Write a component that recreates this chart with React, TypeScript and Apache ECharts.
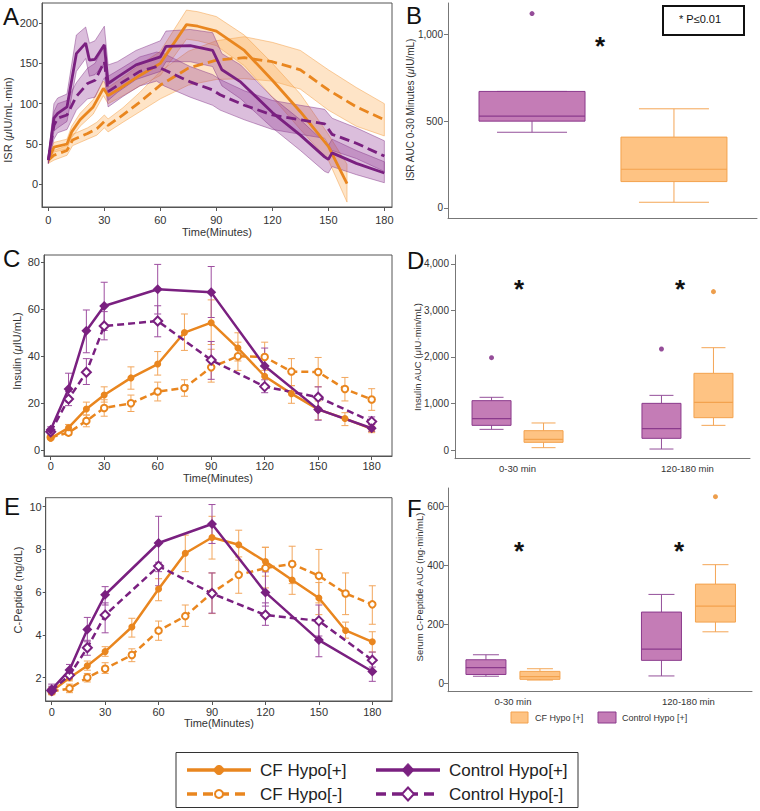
import React, { useEffect, useRef } from 'react';
import * as echarts from 'echarts';

const FONT = "'Liberation Sans', Arial, Helvetica, sans-serif";
const ORANGE = '#E9861F';
const PURPLE = '#7A2080';
const ORANGE_ERR = '#F2A65C';
const PURPLE_ERR = '#9E4FA0';
const ORANGE_BAND = 'rgba(251,176,92,0.34)';
const ORANGE_BAND_EDGE = 'rgba(244,160,72,0.5)';
const PURPLE_BAND = 'rgba(146,58,150,0.33)';
const PURPLE_BAND_EDGE = 'rgba(128,48,134,0.45)';
const BOX_P_FILL = '#C47CB6';
const BOX_P_EDGE = '#8B3A8C';
const BOX_P_WHISK = '#94509A';
const BOX_O_FILL = '#FEC383';
const BOX_O_EDGE = '#F3A24E';
const BOX_O_WHISK = '#F4A656';

// ---------- tick labels ----------
const TIME_TICKS = [0, 30, 60, 90, 120, 150, 180];
const ISR_TICKS = [0, 50, 100, 150, 200];
const INS_TICKS = [0, 20, 40, 60, 80];
const CP_TICKS = [2, 4, 6, 8, 10];
const ISR_AUC_TICKS = [0, 500, 1000];
const INS_AUC_TICKS = [0, 1000, 2000, 3000, 4000];
const CP_AUC_TICKS = [0, 200, 400, 600];
const AUC_CATEGORIES = ['0-30 min', '120-180 min'];

// ---------- Panel A: ISR (mean with band) ----------
const isrCtrlPosT = [0, 3, 5, 10, 15, 20, 22, 25, 30, 32, 37, 47, 60, 63, 76, 88, 93, 103, 120, 135, 148, 150, 152, 165, 180];
const isrCtrlPos = [30, 82, 88, 96, 162, 175, 154, 155, 173, 125, 133, 148, 158, 171, 172, 166, 142, 127, 89, 61, 34, 31, 39, 26, 14];
const isrCtrlPosHi = [34, 100, 107, 112, 185, 195, 175, 178, 196, 148, 152, 166, 178, 190, 192, 188, 162, 148, 108, 80, 52, 48, 56, 42, 28];
const isrCtrlPosLo = [26, 66, 70, 78, 140, 156, 134, 136, 150, 104, 114, 130, 140, 152, 152, 146, 122, 106, 70, 42, 16, 14, 22, 12, 2];

const isrCtrlNegT = [0, 3, 5, 10, 15, 21, 25, 30, 32, 40, 49, 58, 62, 76, 88, 92, 105, 120, 135, 148, 152, 165, 180];
const isrCtrlNeg = [30, 73, 82, 86, 109, 125, 129, 152, 115, 127, 140, 146, 142, 127, 117, 111, 98, 86, 80, 75, 62, 51, 35];
const isrCtrlNegHi = [34, 90, 100, 104, 126, 144, 150, 172, 134, 145, 158, 164, 162, 146, 136, 130, 116, 104, 98, 93, 82, 70, 54];
const isrCtrlNegLo = [26, 56, 64, 68, 92, 106, 108, 132, 96, 109, 122, 128, 122, 108, 98, 92, 80, 68, 62, 57, 42, 32, 16];

const isrCfPosT = [0, 3, 10, 12.5, 17, 24, 29.5, 32, 37, 49, 60, 74, 80, 90, 105, 120, 135, 150, 160];
const isrCfPos = [30, 46, 50, 65, 80, 96, 119, 110, 117, 135, 150, 198, 196, 190, 166, 129, 90, 47, 1];
const isrCfPosHi = [34, 52, 56, 72, 88, 105, 128, 120, 128, 148, 165, 216, 214, 208, 185, 150, 112, 62, 25];
const isrCfPosLo = [26, 40, 44, 58, 72, 87, 110, 100, 106, 122, 135, 180, 178, 172, 147, 108, 68, 30, -22];

const isrCfNegT = [0, 3, 10, 13, 21, 26, 30, 32, 40, 49, 60, 75, 90, 105, 120, 135, 150, 165, 180];
const isrCfNeg = [30, 36, 42, 55, 63, 69, 78, 73, 86, 102, 123, 144, 154, 157, 152, 142, 117, 96, 80];
const isrCfNegHi = [34, 42, 48, 62, 70, 77, 86, 81, 95, 114, 140, 165, 178, 183, 176, 166, 142, 120, 100];
const isrCfNegLo = [26, 30, 36, 48, 56, 61, 70, 65, 77, 90, 106, 123, 130, 131, 128, 118, 92, 72, 60];

// ---------- sampling times ----------
const ctrlTimes = [0, 10, 20, 30, 60, 90, 120, 150, 180];
const cfTimes = [0, 10, 20, 30, 45, 60, 75, 90, 105, 120, 135, 150, 165, 180];

// ---------- Panel C: Insulin ----------
const insCtrlPos = [8.7, 26.1, 50.9, 61.4, 68.5, 67.2, 35.9, 17.4, 9.4];
const insCtrlPosLo = [7.5, 21, 41.5, 51, 58, 56.5, 28, 12.8, 8];
const insCtrlPosHi = [10, 32.8, 59.7, 71.5, 79.1, 78.2, 43.5, 22, 11];
const insCtrlNeg = [7.9, 21.8, 33.2, 52.9, 55, 38.4, 27.1, 22.6, 12.2];
const insCtrlNegLo = [7, 19, 28, 47, 48.3, 30.2, 24.5, 18, 10];
const insCtrlNegHi = [9, 25, 39, 59, 61.5, 46.3, 30, 27, 14.2];
const insCfPos = [5.1, 9.6, 17.6, 23.5, 30.8, 36.7, 50.1, 54.3, 43.5, 31.5, 24.1, 17.4, 13.5, 9.1];
const insCfPosLo = [4.5, 8, 15, 20.5, 26, 32, 42.5, 45, 38, 27, 20, 13, 10.5, 7.5];
const insCfPosHi = [5.8, 11, 20.5, 27, 35.5, 42, 58, 64, 50, 36, 27.5, 21, 16, 10.8];
const insCfNeg = [5.5, 7.5, 12.5, 18, 20, 25, 26.5, 35.3, 40, 39.7, 33.5, 33.3, 26.1, 21.6];
const insCfNegLo = [4.8, 6.5, 10, 14.5, 16.5, 21, 23, 29, 34, 34, 27.5, 27, 21, 17];
const insCfNegHi = [6.2, 8.5, 15, 21.5, 23.5, 29, 30, 43, 46, 46, 39, 39.5, 31, 26.2];

// ---------- Panel E: C-Peptide ----------
const cpCtrlPos = [1.45, 2.36, 4.26, 5.88, 8.3, 9.19, 5.99, 3.76, 2.29];
const cpCtrlPosLo = [1.25, 2.1, 3.68, 5.4, 6.96, 8.28, 5.35, 2.98, 1.83];
const cpCtrlPosHi = [1.7, 2.62, 4.82, 6.26, 9.55, 10.1, 6.95, 4.55, 2.75];
const cpCtrlNeg = [1.4, 2.12, 3.4, 4.93, 7.22, 5.94, 4.93, 4.66, 2.82];
const cpCtrlNegLo = [1.25, 1.95, 3.05, 4.1, 6.3, 5.02, 4.45, 3.95, 2.5];
const cpCtrlNegHi = [1.6, 2.3, 3.75, 5.5, 7.4, 6.9, 5.5, 5.4, 3.2];
const cpCfPos = [1.37, 2.0, 2.56, 3.22, 4.37, 6.15, 7.82, 8.56, 8.22, 7.43, 6.57, 5.73, 4.21, 3.68];
const cpCfPosLo = [1.2, 1.85, 2.35, 3.0, 3.9, 5.6, 6.96, 7.55, 7.5, 6.75, 5.9, 4.95, 3.85, 3.2];
const cpCfPosHi = [1.55, 2.15, 2.78, 3.45, 4.78, 6.63, 8.67, 9.55, 8.9, 8.1, 7.25, 6.45, 4.6, 4.15];
const cpCfNeg = [1.35, 1.5, 2.01, 2.42, 3.06, 4.2, 4.88, 5.97, 6.81, 7.13, 7.32, 6.77, 5.94, 5.43];
const cpCfNegLo = [1.25, 1.3, 1.8, 2.2, 2.75, 3.75, 4.4, 5.0, 5.95, 6.2, 6.4, 5.5, 4.95, 4.5];
const cpCfNegHi = [1.5, 1.7, 2.2, 2.7, 3.35, 4.65, 5.4, 6.9, 7.65, 8.1, 8.15, 8.0, 6.9, 6.3];

// ---------- Box plots: [min, Q1, median, Q3, max] ----------
const isrAucCtrl = [[436, 500, 529, 671, 671]];
const isrAucCtrlOut = [[1119]];
const isrAucCf = [[33, 152, 223, 408, 571]];

const insAucCtrl = [[444, 530, 674, 1061, 1133], [21, 251, 459, 1003, 1175]];
const insAucCtrlOut = [[1985], [2172]];
const insAucCf = [[50, 165, 229, 416, 581], [530, 695, 1025, 1649, 2200]];
const insAucCfOut = [[], [3405]];

const cpAucCtrl = [[24, 30, 53, 80, 97], [25, 78, 116, 242, 302]];
const cpAucCf = [[11, 13.5, 22.5, 40.5, 49.5], [175, 208, 262, 337, 403]];
const cpAucCfOut = [[], [634]];

const zip = (t: number[], v: number[]) => t.map((x, i) => [x, v[i]]);
const fmtThousands = (v: number) => Number(v).toLocaleString('en-US');

function bandSeries(g: number, t: number[], lo: number[], hi: number[], fill: string, stroke: string) {
  return {
    type: 'custom', xAxisIndex: g, yAxisIndex: g, silent: true, clip: true, z: 1,
    data: [[t[0], lo[0]]],
    renderItem: (_p: any, api: any) => {
      const pts: number[][] = [];
      for (let i = 0; i < t.length; i++) pts.push(api.coord([t[i], hi[i]]));
      for (let i = t.length - 1; i >= 0; i--) pts.push(api.coord([t[i], lo[i]]));
      return { type: 'polygon', shape: { points: pts }, style: { fill, stroke, lineWidth: 1 } };
    },
  };
}

function errSeries(g: number, t: number[], lo: number[], hi: number[], color: string) {
  return {
    type: 'custom', xAxisIndex: g, yAxisIndex: g, silent: true, z: 2,
    encode: { x: 0, y: [1, 2] },
    data: t.map((x, i) => [x, lo[i], hi[i]]),
    renderItem: (_p: any, api: any) => {
      const x = api.value(0);
      const a = api.coord([x, api.value(1)]);
      const b = api.coord([x, api.value(2)]);
      const st = { stroke: color, lineWidth: 1 };
      return {
        type: 'group', children: [
          { type: 'line', shape: { x1: a[0], y1: a[1], x2: b[0], y2: b[1] }, style: st },
          { type: 'line', shape: { x1: a[0] - 3.5, y1: a[1], x2: a[0] + 3.5, y2: a[1] }, style: st },
          { type: 'line', shape: { x1: b[0] - 3.5, y1: b[1], x2: b[0] + 3.5, y2: b[1] }, style: st },
        ],
      };
    },
  };
}

function lineSeries(g: number, name: string, t: number[], v: number[], color: string, dash: number[] | null, symbol: string, size: number, width: number) {
  return {
    type: 'line', name, xAxisIndex: g, yAxisIndex: g, z: 3,
    data: zip(t, v),
    symbol, symbolSize: size, showSymbol: symbol !== 'none',
    lineStyle: { color, width, type: dash ? dash : 'solid' },
    itemStyle: { color, borderColor: color, borderWidth: symbol.startsWith('empty') ? 1.5 : 0 },
    emphasis: { disabled: true },
  };
}

function boxSeries(g: number, name: string, stats: number[][], firstCat: number, offset: number, halfW: number, capHalf: number, fill: string, edge: string, whisk: string) {
  return {
    type: 'custom', name, xAxisIndex: g, yAxisIndex: g, z: 2,
    encode: { x: 0, y: [1, 2, 3, 4, 5] },
    data: stats.map((s, i) => [firstCat + i, ...s]),
    renderItem: (_p: any, api: any) => {
      const c = api.value(0);
      const cx = api.coord([c, 0])[0] + offset;
      const y = (k: number) => api.coord([c, api.value(k)])[1];
      const yMin = y(1), yQ1 = y(2), yMed = y(3), yQ3 = y(4), yMax = y(5);
      const ws = { stroke: whisk, lineWidth: 1 };
      return {
        type: 'group', children: [
          { type: 'line', shape: { x1: cx, y1: yMin, x2: cx, y2: yQ1 }, style: ws },
          { type: 'line', shape: { x1: cx, y1: yQ3, x2: cx, y2: yMax }, style: ws },
          { type: 'line', shape: { x1: cx - capHalf, y1: yMin, x2: cx + capHalf, y2: yMin }, style: ws },
          { type: 'line', shape: { x1: cx - capHalf, y1: yMax, x2: cx + capHalf, y2: yMax }, style: ws },
          { type: 'rect', shape: { x: cx - halfW, y: yQ3, width: halfW * 2, height: yQ1 - yQ3 }, style: { fill, stroke: edge, lineWidth: 1 } },
          { type: 'line', shape: { x1: cx - halfW, y1: yMed, x2: cx + halfW, y2: yMed }, style: { stroke: edge, lineWidth: 1.2 } },
        ],
      };
    },
  };
}

function outlierSeries(g: number, outs: number[][], firstCat: number, offset: number, color: string) {
  const data: number[][] = [];
  outs.forEach((arr, i) => arr.forEach((v) => data.push([firstCat + i, v])));
  return {
    type: 'scatter', xAxisIndex: g, yAxisIndex: g, z: 4, data,
    symbolSize: 5, symbolOffset: [offset, 0], itemStyle: { color }, silent: true,
  };
}

const labelStyle = { color: '#333', fontFamily: FONT };

function timeXAxis(g: number, min: number, max: number, margin: number, nameGap: number) {
  return {
    type: 'value', gridIndex: g, min, max,
    axisLine: { show: true, onZero: false, lineStyle: { color: '#555' } },
    axisTick: { show: true, length: 4, customValues: TIME_TICKS, lineStyle: { color: '#555' } },
    axisLabel: { ...labelStyle, fontSize: 11, margin, customValues: TIME_TICKS },
    splitLine: { show: false },
    name: 'Time(Minutes)', nameLocation: 'middle', nameGap,
    nameTextStyle: { ...labelStyle, fontSize: 11 },
  };
}

function leftYAxis(g: number, min: number, max: number, ticks: number[]) {
  return {
    type: 'value', gridIndex: g, min, max,
    axisLine: { show: true, onZero: false, lineStyle: { color: '#555' } },
    axisTick: { show: true, length: 3, customValues: ticks, lineStyle: { color: '#555' } },
    axisLabel: { ...labelStyle, fontSize: 11, margin: 4, customValues: ticks },
    splitLine: { show: false },
  };
}

function aucYAxis(g: number, min: number, max: number, ticks: number[], margin: number) {
  return {
    type: 'value', gridIndex: g, min, max,
    axisLine: { show: true, onZero: false, lineStyle: { color: '#777' } },
    axisTick: { show: true, length: 4, customValues: ticks, lineStyle: { color: '#777' } },
    axisLabel: { ...labelStyle, fontSize: 10, margin, customValues: ticks, formatter: (v: number) => fmtThousands(v) },
    splitLine: { show: false },
  };
}

function catXAxis(g: number, min: number, max: number, showLabels: boolean, margin: number) {
  return {
    type: 'value', gridIndex: g, min, max,
    axisLine: { show: true, onZero: false, lineStyle: { color: '#777' } },
    axisTick: { show: false },
    axisLabel: showLabels
      ? { ...labelStyle, fontSize: 9.5, margin, customValues: [0, 1], formatter: (v: number) => AUC_CATEGORIES[v] }
      : { show: false },
    splitLine: { show: false },
  };
}

function yTitle(x: number, y: number, text: string, size: number) {
  return {
    type: 'text', x, y, rotation: Math.PI / 2, silent: true,
    style: {
      text, fill: '#333', font: `${size}px ${FONT}`, align: 'center', verticalAlign: 'middle',
      rich: { i: { fontStyle: 'italic', fontSize: size, fontFamily: FONT, fill: '#333' } },
    },
  };
}

function letter(x: number, y: number, t: string) {
  return { type: 'text', x, y, silent: true, style: { text: t, fill: '#111', font: `24px ${FONT}`, align: 'left', verticalAlign: 'middle' } };
}

function star(x: number, y: number) {
  return { type: 'text', x, y, silent: true, style: { text: '*', fill: '#111', font: `bold 26px ${FONT}`, align: 'center', verticalAlign: 'middle' } };
}

function legendItem(x0: number, y: number, color: string, dashed: boolean, marker: 'circle' | 'diamond', hollow: boolean, text: string) {
  const els: any[] = [];
  els.push({ type: 'line', silent: true, shape: { x1: x0, y1: y, x2: x0 + 64, y2: y }, style: { stroke: color, lineWidth: 3.5, lineDash: dashed ? [10, 6] : null } });
  const cx = x0 + 32;
  const mStyle = hollow ? { fill: '#fff', stroke: color, lineWidth: 2 } : { fill: color, stroke: color, lineWidth: 1 };
  if (marker === 'circle') {
    els.push({ type: 'circle', silent: true, shape: { cx, cy: y, r: hollow ? 4 : 4.5 }, style: mStyle });
  } else {
    els.push({ type: 'polygon', silent: true, shape: { points: [[cx, y - 6.5], [cx + 6, y], [cx, y + 6.5], [cx - 6, y]] }, style: mStyle });
  }
  els.push({ type: 'text', silent: true, x: x0 + 73, y, style: { text, fill: '#222', font: `17px ${FONT}`, align: 'left', verticalAlign: 'middle' } });
  return els;
}

const DASH_A = [10, 5];
const DASH_C = [7, 4];

function buildOption() {
  const grid = [
    { left: 42, top: 3, width: 350, height: 204, show: true, borderColor: '#555', borderWidth: 1 },
    { left: 448, top: 3, width: 309, height: 215 },
    { left: 44, top: 255, width: 348, height: 201, show: true, borderColor: '#555', borderWidth: 1 },
    { left: 455, top: 255, width: 295, height: 203.7 },
    { left: 45.7, top: 497.7, width: 346.3, height: 203.3, show: true, borderColor: '#555', borderWidth: 1 },
    { left: 448, top: 488, width: 304, height: 203.7 },
  ];
  const xAxis = [
    timeXAxis(0, -3.4, 184.1, 7, 19),
    catXAxis(1, -0.592, 1.585, false, 0),
    timeXAxis(2, -3.76, 191.4, 4, 16),
    catXAxis(3, -0.368, 1.368, true, 5),
    timeXAxis(4, -3.37, 191.06, 5, 16),
    catXAxis(5, -0.37, 1.362, true, 5),
  ];
  const yAxis = [
    leftYAxis(0, -28.1, 224.8, ISR_TICKS),
    aucYAxis(1, -57.6, 1180, ISR_AUC_TICKS, 5),
    leftYAxis(2, -2.43, 83.1, INS_TICKS),
    aucYAxis(3, -187, 4193, INS_AUC_TICKS, 6),
    leftYAxis(4, 0.91, 10.42, CP_TICKS),
    aucYAxis(5, -28.5, 663.5, CP_AUC_TICKS, 4),
  ];

  const series: any[] = [
    // Panel A bands and means
    bandSeries(0, isrCfNegT, isrCfNegLo, isrCfNegHi, ORANGE_BAND, ORANGE_BAND_EDGE),
    bandSeries(0, isrCfPosT, isrCfPosLo, isrCfPosHi, ORANGE_BAND, ORANGE_BAND_EDGE),
    bandSeries(0, isrCtrlNegT, isrCtrlNegLo, isrCtrlNegHi, PURPLE_BAND, PURPLE_BAND_EDGE),
    bandSeries(0, isrCtrlPosT, isrCtrlPosLo, isrCtrlPosHi, PURPLE_BAND, PURPLE_BAND_EDGE),
    lineSeries(0, 'CF Hypo[-]', isrCfNegT, isrCfNeg, ORANGE, DASH_A, 'none', 0, 2.8),
    lineSeries(0, 'CF Hypo[+]', isrCfPosT, isrCfPos, ORANGE, null, 'none', 0, 2.8),
    lineSeries(0, 'Control Hypo[-]', isrCtrlNegT, isrCtrlNeg, PURPLE, DASH_A, 'none', 0, 2.8),
    lineSeries(0, 'Control Hypo[+]', isrCtrlPosT, isrCtrlPos, PURPLE, null, 'none', 0, 2.8),

    // Panel B (Control at 0, CF at 1)
    boxSeries(1, 'Control Hypo [+]', isrAucCtrl, 0, 0, 53, 35, BOX_P_FILL, BOX_P_EDGE, BOX_P_WHISK),
    boxSeries(1, 'CF Hypo [+]', isrAucCf, 1, 0, 53, 35, BOX_O_FILL, BOX_O_EDGE, BOX_O_WHISK),
    outlierSeries(1, isrAucCtrlOut, 0, 0, PURPLE),

    // Panel C
    errSeries(2, cfTimes, insCfNegLo, insCfNegHi, ORANGE_ERR),
    errSeries(2, cfTimes, insCfPosLo, insCfPosHi, ORANGE_ERR),
    errSeries(2, ctrlTimes, insCtrlNegLo, insCtrlNegHi, PURPLE_ERR),
    errSeries(2, ctrlTimes, insCtrlPosLo, insCtrlPosHi, PURPLE_ERR),
    lineSeries(2, 'CF Hypo[-]', cfTimes, insCfNeg, ORANGE, DASH_C, 'emptyCircle', 6.5, 2.5),
    lineSeries(2, 'CF Hypo[+]', cfTimes, insCfPos, ORANGE, null, 'circle', 7, 2.5),
    lineSeries(2, 'Control Hypo[-]', ctrlTimes, insCtrlNeg, PURPLE, DASH_C, 'emptyDiamond', 9, 2.5),
    lineSeries(2, 'Control Hypo[+]', ctrlTimes, insCtrlPos, PURPLE, null, 'diamond', 10, 2.5),

    // Panel D
    boxSeries(3, 'Control Hypo [+]', insAucCtrl, 0, -26, 19.5, 12, BOX_P_FILL, BOX_P_EDGE, BOX_P_WHISK),
    boxSeries(3, 'CF Hypo [+]', insAucCf, 0, 26, 19.5, 12, BOX_O_FILL, BOX_O_EDGE, BOX_O_WHISK),
    outlierSeries(3, insAucCtrlOut, 0, -26, PURPLE),
    outlierSeries(3, insAucCfOut, 0, 26, ORANGE),

    // Panel E
    errSeries(4, cfTimes, cpCfNegLo, cpCfNegHi, ORANGE_ERR),
    errSeries(4, cfTimes, cpCfPosLo, cpCfPosHi, ORANGE_ERR),
    errSeries(4, ctrlTimes, cpCtrlNegLo, cpCtrlNegHi, PURPLE_ERR),
    errSeries(4, ctrlTimes, cpCtrlPosLo, cpCtrlPosHi, PURPLE_ERR),
    lineSeries(4, 'CF Hypo[-]', cfTimes, cpCfNeg, ORANGE, DASH_C, 'emptyCircle', 6.5, 2.5),
    lineSeries(4, 'CF Hypo[+]', cfTimes, cpCfPos, ORANGE, null, 'circle', 7, 2.5),
    lineSeries(4, 'Control Hypo[-]', ctrlTimes, cpCtrlNeg, PURPLE, DASH_C, 'emptyDiamond', 9, 2.5),
    lineSeries(4, 'Control Hypo[+]', ctrlTimes, cpCtrlPos, PURPLE, null, 'diamond', 10, 2.5),

    // Panel F
    boxSeries(5, 'Control Hypo [+]', cpAucCtrl, 0, -27, 20, 13, BOX_P_FILL, BOX_P_EDGE, BOX_P_WHISK),
    boxSeries(5, 'CF Hypo [+]', cpAucCf, 0, 27, 20, 13, BOX_O_FILL, BOX_O_EDGE, BOX_O_WHISK),
    outlierSeries(5, cpAucCfOut, 0, 27, ORANGE),
  ];

  const graphic: any[] = [
    letter(3, 16, 'A'), letter(406, 15, 'B'), letter(3, 258, 'C'),
    letter(407, 260, 'D'), letter(4, 506, 'E'), letter(407, 508, 'F'),
    yTitle(8, 120, 'ISR ({i|μ}IU/mL·min)', 11),
    yTitle(410, 110, 'ISR AUC 0-30 Minutes ({i|μ}IU/mL)', 10),
    yTitle(17, 351, 'Insulin ({i|μ}IU/mL)', 11),
    yTitle(417, 357, 'Insulin AUC (μIU·min/mL)', 9.5),
    yTitle(17.5, 590, 'C-Peptide (ng/dL)', 11),
    yTitle(419, 587, 'Serum C-Peptide AUC (ng·min/mL)', 9.5),
    star(600, 46), star(519, 289), star(680, 289), star(519, 551), star(679, 551),
    { type: 'rect', silent: true, shape: { x: 663, y: 6, width: 81, height: 29 }, style: { fill: 'none', stroke: '#111', lineWidth: 2 } },
    { type: 'text', silent: true, x: 700, y: 19, style: { text: '* P≤0.01', fill: '#111', font: `11px ${FONT}`, align: 'center', verticalAlign: 'middle' } },
    // panel F legend
    { type: 'rect', silent: true, shape: { x: 511, y: 712, width: 17, height: 11 }, style: { fill: BOX_O_FILL, stroke: BOX_O_EDGE, lineWidth: 1 } },
    { type: 'text', silent: true, x: 535, y: 718, style: { text: 'CF Hypo [+]', fill: '#333', font: `9px ${FONT}`, align: 'left', verticalAlign: 'middle' } },
    { type: 'rect', silent: true, shape: { x: 598, y: 712, width: 18, height: 11 }, style: { fill: BOX_P_FILL, stroke: BOX_P_EDGE, lineWidth: 1 } },
    { type: 'text', silent: true, x: 622, y: 718, style: { text: 'Control Hypo [+]', fill: '#333', font: `9px ${FONT}`, align: 'left', verticalAlign: 'middle' } },
    // main legend
    { type: 'rect', silent: true, shape: { x: 176, y: 752.5, width: 402, height: 55 }, style: { fill: '#fff', stroke: '#333', lineWidth: 1 } },
    ...legendItem(187, 770, ORANGE, false, 'circle', false, 'CF Hypo[+]'),
    ...legendItem(187, 794, ORANGE, true, 'circle', true, 'CF Hypo[-]'),
    ...legendItem(376, 770, PURPLE, false, 'diamond', false, 'Control Hypo[+]'),
    ...legendItem(376, 794, PURPLE, true, 'diamond', true, 'Control Hypo[-]'),
  ];

  return {
    animation: false,
    backgroundColor: '#ffffff',
    textStyle: { fontFamily: FONT },
    grid, xAxis, yAxis, series, graphic,
  };
}

export default function App() {
  const ref = useRef<HTMLDivElement>(null);
  useEffect(() => {
    const chart = echarts.init(ref.current!, null, { renderer: 'svg' });
    chart.setOption(buildOption() as any);
    return () => chart.dispose();
  }, []);
  return <div ref={ref} style={{ position: 'absolute', left: 0, top: 0, width: 760, height: 811 }} />;
}
